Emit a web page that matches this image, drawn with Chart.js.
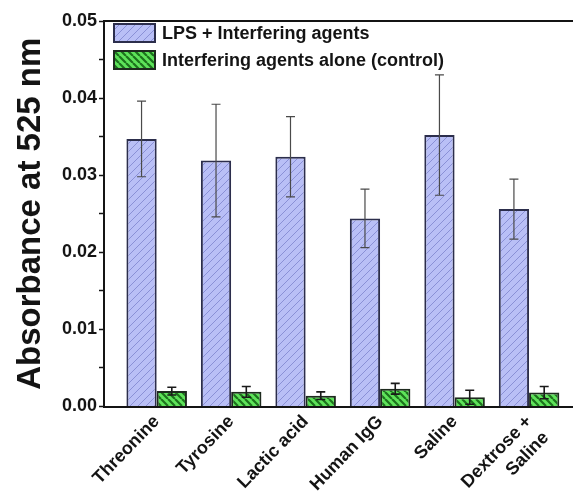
<!DOCTYPE html>
<html>
<head>
<meta charset="utf-8">
<script src="https://cdn.jsdelivr.net/npm/chart.js@4.4.1/dist/chart.umd.min.js"></script>
<style>
  html, body { margin: 0; padding: 0; background: #ffffff; }
  #wrap { width: 573px; height: 492px; }
</style>
</head>
<body>
<div id="wrap"><canvas id="chart" width="573" height="492"></canvas></div>
<script>
// Sample names along the x axis
const categories = ['Threonine', 'Tyrosine', 'Lactic acid', 'Human IgG', 'Saline', ['Dextrose +', 'Saline']];

// Absorbance at 525 nm: LPS spiked with each interfering agent
const lpsValues = [0.0347, 0.0319, 0.0324, 0.0244, 0.0352, 0.0256];
const lpsErrors = [0.0049, 0.0073, 0.0052, 0.0038, 0.0078, 0.0039];

// Absorbance at 525 nm: interfering agent on its own (control)
const controlValues = [0.0020, 0.0019, 0.0014, 0.0023, 0.0012, 0.0018];
const controlErrors = [0.0005, 0.0007, 0.0005, 0.0007, 0.0009, 0.0008];

const seriesLabels = ['LPS + Interfering agents', 'Interfering agents alone (control)'];

// Y axis range and tick spacing
const yMin = 0;
const yMax = 0.05;
const yStep = 0.005;

const FONT = '"Liberation Sans", Arial, Helvetica, sans-serif';
const INK = '#141414';

// Diagonal hatch tile used as a bar fill
function hatch(bg, line, size, width, dir) {
  const c = document.createElement('canvas');
  c.width = size; c.height = size;
  const g = c.getContext('2d');
  g.fillStyle = bg;
  g.fillRect(0, 0, size, size);
  g.strokeStyle = line;
  g.lineWidth = width;
  g.beginPath();
  for (const k of [-size, 0, size]) {
    if (dir === '/') { g.moveTo(k, size); g.lineTo(k + size, 0); }
    else { g.moveTo(k, 0); g.lineTo(k + size, size); }
  }
  g.stroke();
  return g.createPattern(c, 'repeat');
}

const ctx = document.getElementById('chart').getContext('2d');
const bluePattern = hatch('#b9bff6', '#8a90d6', 8, 1, '/');
const greenPattern = hatch('#5ee35a', '#1c721c', 7, 2.2, '\\');

const toPoints = vals => vals.map((v, i) => ({ x: i + 1, y: v }));

// Error bars drawn with the chart's own scales
const errorBars = {
  id: 'errorBars',
  afterDatasetsDraw(chart) {
    const y = chart.scales.y;
    const c = chart.ctx;
    chart.data.datasets.forEach((ds, di) => {
      const meta = chart.getDatasetMeta(di);
      meta.data.forEach((bar, i) => {
        const v = ds.data[i].y, e = ds.errors[i];
        const top = y.getPixelForValue(v + e);
        const bot = y.getPixelForValue(v - e);
        const half = ds.capHalf;
        c.save();
        c.strokeStyle = ds.errorColor;
        c.lineWidth = ds.errorWidth;
        c.beginPath();
        c.moveTo(bar.x, top); c.lineTo(bar.x, bot);
        c.moveTo(bar.x - half, top); c.lineTo(bar.x + half, top);
        c.moveTo(bar.x - half, bot); c.lineTo(bar.x + half, bot);
        c.stroke();
        c.restore();
      });
    });
  }
};

// Top frame line and the legend inside the plot area
const frameAndLegend = {
  id: 'frameAndLegend',
  afterDraw(chart) {
    const { left, right, top } = chart.chartArea;
    const c = chart.ctx;
    c.save();
    c.strokeStyle = INK;
    c.lineWidth = 2;
    c.beginPath();
    c.moveTo(left - 1, top); c.lineTo(right, top);
    c.stroke();

    const boxW = 43, boxH = 20, gap = 27;
    const x0 = left + 9, y0 = top + 2;
    c.font = 'bold 18px ' + FONT;
    c.textBaseline = 'middle';
    c.textAlign = 'left';
    chart.data.datasets.forEach((ds, i) => {
      const by = y0 + i * gap;
      c.fillStyle = ds.backgroundColor;
      c.fillRect(x0, by, boxW, boxH);
      c.strokeStyle = ds.borderColor;
      c.lineWidth = 2;
      c.strokeRect(x0 + 1, by + 1, boxW - 2, boxH - 2);
      c.fillStyle = INK;
      c.fillText(ds.label, x0 + boxW + 6, by + boxH / 2 + 1);
    });
    c.restore();
  }
};

new Chart(ctx, {
  type: 'bar',
  data: {
    datasets: [
      {
        label: seriesLabels[0],
        data: toPoints(lpsValues),
        errors: lpsErrors,
        backgroundColor: bluePattern,
        borderColor: '#2c2e4c',
        borderWidth: 2,
        errorColor: '#4a4a4a',
        errorWidth: 1.2,
        capHalf: 4.5
      },
      {
        label: seriesLabels[1],
        data: toPoints(controlValues),
        errors: controlErrors,
        backgroundColor: greenPattern,
        borderColor: '#1e2a1e',
        borderWidth: 2,
        errorColor: '#1a1a1a',
        errorWidth: 1.6,
        capHalf: 4.5
      }
    ]
  },
  options: {
    responsive: false,
    devicePixelRatio: 1,
    animation: false,
    categoryPercentage: 0.813,
    barPercentage: 1,
    layout: { padding: { top: 21, right: 0, left: 0, bottom: 0 } },
    plugins: {
      legend: { display: false },
      tooltip: { enabled: false }
    },
    scales: {
      x: {
        type: 'linear',
        min: 0.2926,
        max: 6.59,
        offset: false,
        afterBuildTicks(scale) {
          scale.ticks = categories.map((_, i) => ({ value: i + 1 }));
        },
        afterFit(scale) { scale.height = 85.5; },
        grid: { display: true, drawOnChartArea: false, drawTicks: false, offset: false },
        border: { display: true, color: INK, width: 2 },
        ticks: {
          autoSkip: false,
          maxRotation: 46,
          minRotation: 46,
          padding: 4,
          color: INK,
          font: { family: FONT, size: 18, weight: 'bold', lineHeight: 1.3 },
          callback: v => categories[Math.round(v) - 1]
        }
      },
      y: {
        min: yMin,
        max: yMax,
        afterFit(scale) { scale.width = 104; },
        grid: { display: true, drawOnChartArea: false, drawTicks: true, tickLength: 5, color: INK, tickWidth: 1.5 },
        border: { display: true, color: INK, width: 2 },
        ticks: {
          stepSize: yStep,
          padding: 2,
          color: INK,
          font: { family: FONT, size: 18, weight: 'bold' },
          callback: v => (Math.round(v * 1000) % 10 === 0 ? v.toFixed(2) : '')
        },
        title: {
          display: true,
          text: 'Absorbance at 525 nm',
          color: INK,
          padding: { top: 11, bottom: 0 },
          font: { family: FONT, size: 33, weight: 'bold' }
        }
      }
    }
  },
  plugins: [errorBars, frameAndLegend]
});
</script>
</body>
</html>
